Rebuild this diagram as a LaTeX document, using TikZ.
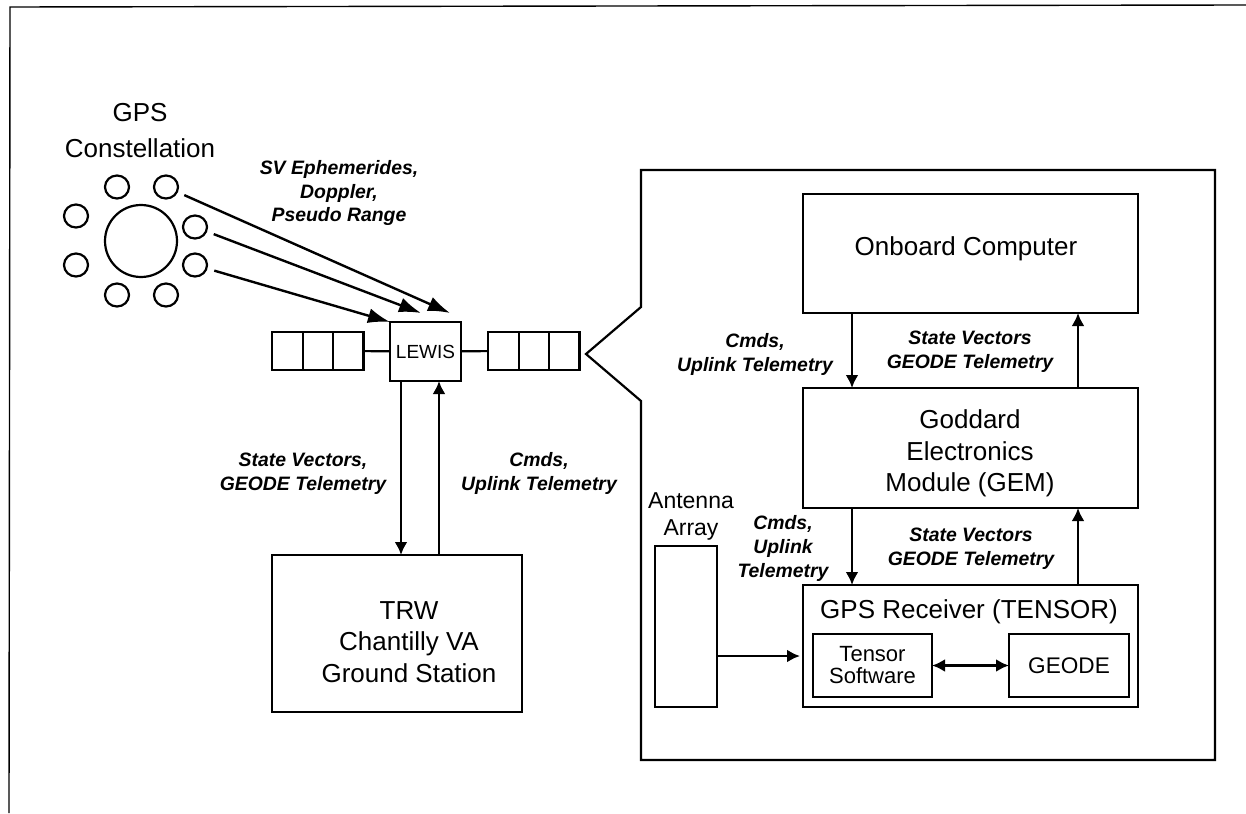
\documentclass[tikz,border=0pt]{standalone}
\usepackage{fontspec}
\setmainfont{Liberation Sans}
\usetikzlibrary{arrows.meta,positioning,shapes.geometric}

\begin{document}
\begin{tikzpicture}[x=0.5pt,y=-0.5pt,line width=1.1pt,
        block/.style={draw,rectangle,outer sep=0pt,inner sep=0pt,align=center,font=\fontsize{13}{16}\selectfont},
        cell/.style={draw,rectangle,outer sep=0pt,minimum width=15.2pt,minimum height=19pt,node distance=0pt},
        sat/.style={draw,ellipse,minimum width=12pt,minimum height=11.5pt,inner sep=0pt},
        txt/.style={align=center,inner sep=0pt,font=\fontsize{13}{18}\selectfont},
        lab/.style={align=center,inner sep=0pt,font=\fontsize{9.7}{11.8}\selectfont\bfseries\itshape},
        big/.style={-{Latex[length=11pt,width=7.5pt]},line width=1.2pt},
        tip/.style={-{Latex[length=6.5pt,width=6.5pt]},line width=1.3pt}]
   \useasboundingbox (0,0) rectangle (1246,813);
   \draw[line width=0.7pt] (9,813) -- (10,7) -- (1246,5);

   % constellation
   \node[txt] (T) at (140,131) {GPS\\Constellation};
   \node[draw,ellipse,minimum width=36pt,minimum height=36pt,inner sep=0pt] (E) at (141,241) {};
   \node[sat] (S1) at (117,187) {};
   \node[sat] (S2) at (166,187) {};
   \node[sat] (S3) at (76,216) {};
   \node[sat] (S4) at (195,227) {};
   \node[sat] (S5) at (76,265) {};
   \node[sat] (S6) at (195,265) {};
   \node[sat] (S7) at (117,295) {};
   \node[sat] (S8) at (166,295) {};
   \node[lab] (L1) at (339,193) {SV Ephemerides,\\Doppler,\\Pseudo Range};

   % spacecraft
   \node[block,minimum width=35.5pt,minimum height=29.5pt,font=\fontsize{9.5}{11}\selectfont] (LEWIS) at (425.5,351.5) {LEWIS};
   \node[cell] (A1) at (287.5,351) {};
   \node[cell] (A2) [right=of A1] {};
   \node[cell] (A3) [right=of A2] {};
   \node[cell] (B1) at (503.5,351) {};
   \node[cell] (B2) [right=of B1] {};
   \node[cell] (B3) [right=of B2] {};
   \draw (A3) -- (LEWIS);
   \draw (LEWIS) -- (B1);
   \coordinate (R1) at (450,313);
   \coordinate (R2) at (421,313);
   \coordinate (R3) at (390,322);
   \draw[big,shorten <=3.5pt] (S2) -- (R1);
   \draw[big,shorten <=3.5pt] (S4) -- (R2);
   \draw[big,shorten <=3.5pt] (S6) -- (R3);

   % ground
   \node[block,minimum width=125pt,minimum height=78.5pt] (TRW) at (397,633.5) {};
   \node[txt,font=\fontsize{13}{15.75}\selectfont] (T1) at (409,642) {TRW\\Chantilly VA\\Ground Station};
   \coordinate (P1) at (401,0);
   \coordinate (P2) at (439,0);
   \draw[tip] (LEWIS.south -| P1) -- (TRW.north -| P1);
   \draw[tip] (TRW.north -| P2) -- (LEWIS.south -| P2);
   \node[lab] (L2) at (303,473.5) {State Vectors,\\GEODE Telemetry};
   \node[lab] (L3) at (539,473.5) {Cmds,\\Uplink Telemetry};

   % callout
   \draw (641,170) -- (1215,170) -- (1215,760) -- (641,760) -- (641,401) -- (586,354) -- (641,307) -- cycle;
   \node[block,minimum width=167.5pt,minimum height=59.5pt] (OBC) at (970.5,253.5) {};
   \node[txt] (T4) at (966,249) {Onboard Computer};
   \node[block,minimum width=167.5pt,minimum height=60pt] (GEM) at (970.5,448) {};
   \node[txt,font=\fontsize{13}{15.75}\selectfont] (T5) at (970,453.5) {Goddard\\Electronics\\Module (GEM)};
   \node[block,minimum width=167.5pt,minimum height=61pt] (RX) at (970.5,646) {};
   \node[txt] (T2) at (969,612) {GPS Receiver (TENSOR)};
   \node[block,minimum width=59.5pt,minimum height=31.5pt,font=\fontsize{11}{11}\selectfont] (SW) at (872.5,665.5) {Tensor\\Software};
   \node[block,minimum width=60pt,minimum height=31.5pt,font=\fontsize{11.3}{13}\selectfont] (GEO) at (1069,665.5) {GEODE};
   \node[block,minimum width=31pt,minimum height=80.5pt] (ANT) at (686,626.5) {};
   \node[txt,font=\fontsize{11.5}{13.5}\selectfont] (T3) at (691,516.5) {Antenna\\Array};
   \coordinate (P3) at (852,0);
   \coordinate (P4) at (1078,0);
   \draw[tip] (OBC.south -| P3) -- (GEM.north -| P3);
   \draw[tip] (GEM.north -| P4) -- (OBC.south -| P4);
   \draw[tip] (GEM.south -| P3) -- (RX.north -| P3);
   \draw[tip] (RX.north -| P4) -- (GEM.south -| P4);
   \coordinate (Q1) at (800,656);
   \draw[tip] (ANT.east |- Q1) -- (Q1);
   \draw[{Latex[length=6.5pt,width=6.5pt]}-{Latex[length=6.5pt,width=6.5pt]},line width=1.3pt] (SW) -- (GEO);
   \node[lab] (L4) at (755,354.5) {Cmds,\\Uplink Telemetry};
   \node[lab] (L5) at (970,351.5) {State Vectors\\GEODE Telemetry};
   \node[lab] (L6) at (783,548.5) {Cmds,\\Uplink\\Telemetry};
   \node[lab] (L7) at (971,549) {State Vectors\\GEODE Telemetry};

\end{tikzpicture}
\end{document}
